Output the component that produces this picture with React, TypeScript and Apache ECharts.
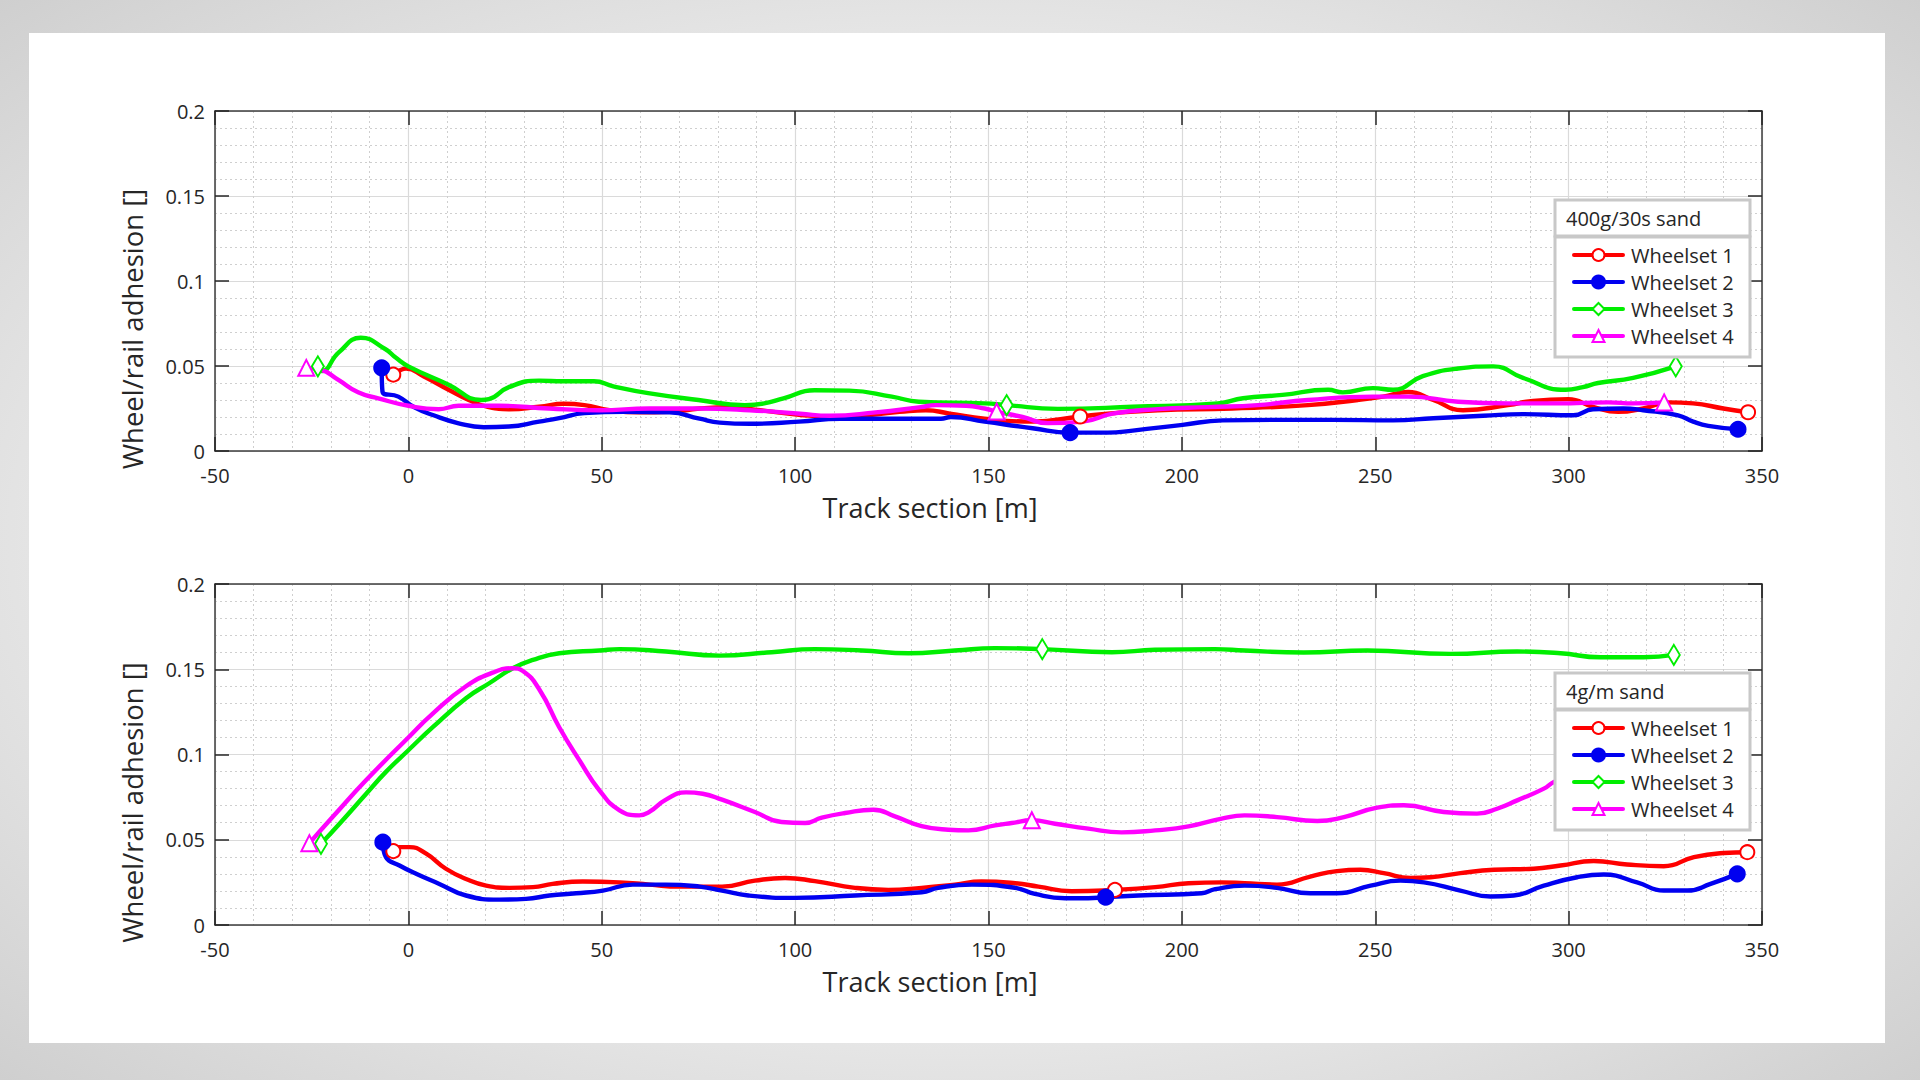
import React, { useEffect, useRef } from "react";
import * as echarts from "echarts";

// ---------- data ----------
const SERIES_NAMES = ["Wheelset 1", "Wheelset 2", "Wheelset 3", "Wheelset 4"];
const SERIES_COLORS = ["#ff0000", "#0000f0", "#00ee00", "#ff00ff"];
const PANEL_TITLES = ["400g/30s sand", "4g/m sand"];
const X_TICKS = [-50, 0, 50, 100, 150, 200, 250, 300, 350];
const Y_TICKS = [0, 0.05, 0.1, 0.15, 0.2];

// Panel 1: 400g/30s sand  ([track section m, adhesion])
const TOP_W1 = [[-3.9,0.0449],[-2.5,0.047],[-0.6,0.0485],[3.9,0.044],[10.4,0.036],[15.6,0.030],[20.8,0.0258],[26,0.0246],[33.8,0.026],[40.3,0.0278],[45.5,0.027],[52,0.024],[59.7,0.0227],[67.5,0.023],[75.3,0.025],[83,0.0258],[91,0.024],[101,0.0213],[111.7,0.020],[127,0.023],[133.8,0.024],[140,0.022],[149,0.019],[161.4,0.0173],[173.7,0.0203],[180.8,0.022],[193.8,0.024],[213,0.025],[232.6,0.027],[245.5,0.030],[252,0.032],[258.5,0.0347],[265,0.030],[272.7,0.024],[284.3,0.027],[290.8,0.0295],[299.9,0.0305],[306.3,0.026],[312.8,0.023],[319.3,0.025],[325.7,0.0286],[332.2,0.028],[340,0.025],[346.4,0.0228]];
const TOP_W2 = [[-6.9,0.0489],[-6.7,0.035],[-2.6,0.032],[1.3,0.026],[6.5,0.021],[13,0.0163],[19.5,0.014],[26,0.0144],[33.8,0.0173],[39,0.0193],[45.5,0.0223],[55.8,0.023],[67.5,0.0227],[75.3,0.019],[80.5,0.0167],[88.3,0.016],[101,0.0173],[111.7,0.019],[127,0.019],[137.7,0.019],[140.3,0.020],[149,0.0173],[161.4,0.0134],[171.1,0.0108],[180.8,0.0108],[187.3,0.012],[200.2,0.0154],[210.6,0.018],[226,0.0183],[239,0.0183],[254.6,0.018],[265,0.0193],[277.9,0.0207],[288.2,0.0217],[301.2,0.021],[306.3,0.0246],[314.1,0.025],[319.3,0.024],[328.3,0.021],[332.2,0.0173],[336.1,0.0148],[343.8,0.0128]];
const TOP_W3 = [[-23.4,0.0498],[-22.4,0.047],[-18,0.058],[-12.3,0.0666],[-6,0.060],[-3.2,0.0548],[0,0.0498],[10.4,0.039],[18.8,0.030],[20.8,0.0305],[26,0.0376],[33.8,0.0414],[40,0.041],[48,0.041],[53,0.038],[62,0.034],[75,0.030],[87,0.027],[92,0.028],[97,0.031],[105,0.0357],[114,0.0355],[125,0.032],[132,0.029],[149,0.028],[154.7,0.027],[167.9,0.0248],[187.3,0.026],[209.3,0.028],[215.8,0.031],[226,0.033],[237.8,0.036],[241.6,0.0345],[249.4,0.037],[254.6,0.036],[262.3,0.044],[271.4,0.0485],[280.5,0.0498],[288.2,0.043],[299.2,0.036],[303.7,0.0376],[307.6,0.040],[316.7,0.043],[327.7,0.0498]];
const TOP_W4 = [[-26.4,0.0489],[-22.7,0.0479],[-18.2,0.042],[-13,0.0345],[-7.8,0.031],[0,0.0266],[7.8,0.0246],[13,0.0266],[23.4,0.0266],[36.4,0.025],[49.4,0.024],[62.3,0.025],[75.3,0.025],[88.3,0.024],[101.3,0.0219],[109,0.0207],[120.8,0.0227],[132.5,0.0258],[136.4,0.027],[144.2,0.0266],[149,0.025],[152.1,0.0232],[158.8,0.020],[165.3,0.0164],[174.4,0.0173],[182.1,0.022],[193.8,0.0246],[206.7,0.0258],[219.6,0.027],[232.6,0.030],[249.4,0.032],[258.5,0.032],[271.4,0.029],[284.3,0.028],[297.3,0.028],[310.2,0.0286],[316.7,0.028],[324.7,0.0286]];
const TOP_MID_X = [173.7, 171.1, 154.7, 152.1];

// Panel 2: 4g/m sand
const BOT_W1 = [[-3.9,0.0433],[-2.3,0.0457],[0.3,0.0457],[4.6,0.0418],[9.7,0.033],[14.9,0.027],[20.1,0.0231],[26.1,0.0218],[32.2,0.0222],[37.3,0.0241],[45.1,0.0255],[54.6,0.025],[62.3,0.0237],[70.1,0.0225],[81.1,0.0225],[89.6,0.026],[97.4,0.0276],[105.1,0.0257],[115.5,0.0218],[124.1,0.0206],[132.7,0.0218],[141.3,0.0237],[148.2,0.0255],[156.9,0.0245],[162.9,0.0225],[171.5,0.0198],[182.7,0.0206],[193.1,0.0222],[201.7,0.0245],[210.3,0.025],[216.2,0.0245],[224.6,0.0237],[233.2,0.0284],[240.1,0.0316],[246.2,0.0324],[252.2,0.0304],[259.1,0.0276],[264.3,0.028],[272,0.0304],[280.7,0.0324],[291,0.033],[297.9,0.0349],[306.5,0.0375],[315.1,0.0355],[324.6,0.0345],[332.4,0.0398],[340.1,0.0422],[346.2,0.0427]];
const BOT_W2 = [[-6.6,0.0486],[-5.8,0.0398],[-2.3,0.0349],[2,0.030],[8,0.0241],[14.9,0.0173],[23.5,0.0149],[30.4,0.0153],[36.5,0.0173],[43.4,0.0186],[50.3,0.0202],[58,0.0237],[66.6,0.0237],[75.3,0.0225],[81.1,0.0202],[87.9,0.0173],[100,0.0159],[115.5,0.0173],[132.7,0.0192],[137,0.0218],[145.7,0.0237],[156.9,0.0218],[162,0.0182],[169.8,0.0157],[175.8,0.0157],[180.3,0.0163],[188.8,0.0173],[205.1,0.0186],[208.6,0.021],[216.2,0.0231],[224.6,0.0218],[233.2,0.0186],[240.1,0.0186],[248.8,0.0231],[256.5,0.026],[262.6,0.025],[272,0.0202],[279.8,0.0167],[285.8,0.0173],[293.6,0.0231],[302.2,0.028],[309.1,0.0296],[317.7,0.025],[324.6,0.0202],[330.7,0.0202],[336.7,0.0241],[343.6,0.030]];
const BOT_W3 = [[-22.6,0.0476],[-17.8,0.0594],[-10.9,0.077],[-5.8,0.0898],[0,0.1025],[6.3,0.116],[14.9,0.133],[20.9,0.1418],[27,0.1506],[32.2,0.1555],[39,0.1594],[49.4,0.161],[54.6,0.1618],[66.6,0.1604],[80.4,0.158],[93.9,0.160],[105.1,0.1618],[117.2,0.161],[129.3,0.1594],[141.3,0.161],[151.7,0.1624],[163.9,0.1618],[181.9,0.160],[193,0.1614],[208.6,0.1618],[216.2,0.161],[231.5,0.1598],[247.9,0.161],[269.4,0.159],[286.7,0.1604],[297.9,0.1594],[308.2,0.157],[319.4,0.157],[327.2,0.1584]];
const BOT_W4 = [[-25.6,0.048],[-19.6,0.0633],[-10.9,0.085],[0,0.110],[6.3,0.124],[14.9,0.14],[21.8,0.148],[27,0.1506],[29.6,0.149],[33.9,0.138],[39,0.116],[44.2,0.0967],[49.4,0.079],[54.6,0.0673],[59.7,0.0643],[62.3,0.0663],[66.6,0.0735],[71.8,0.0778],[76.1,0.077],[81.1,0.0735],[89.6,0.0663],[96.5,0.0604],[102.6,0.0598],[106.9,0.063],[112.9,0.0657],[120.2,0.0676],[125.8,0.0637],[132.7,0.058],[139.6,0.0559],[144.8,0.0555],[151.7,0.0584],[156,0.0598],[161.2,0.0614],[167.2,0.0594],[175.8,0.0565],[184.4,0.0543],[193.1,0.0555],[201.7,0.0578],[210.3,0.0624],[216.2,0.0643],[224.6,0.0633],[235,0.061],[241.9,0.0633],[250.5,0.0688],[257.4,0.0702],[267.7,0.0663],[276.3,0.0653],[281.5,0.0682],[286.7,0.0731],[293.6,0.080],[296.2,0.0839],[305,0.092],[315,0.098],[325,0.102]];
const BOT_MID_X = [182.7, 180.3, 163.9, 161.2];

const PANELS = [
  { series: [TOP_W1, TOP_W2, TOP_W3, TOP_W4], mids: TOP_MID_X },
  { series: [BOT_W1, BOT_W2, BOT_W3, BOT_W4], mids: BOT_MID_X },
];

// ---------- styles ----------
const FONT = "'Open Sans', 'Noto Sans', sans-serif";
const TEXT_COLOR = "#262626";
const SYMBOLS: any[] = ["emptyCircle", "circle", "emptyDiamond", "emptyTriangle"];
const SYMBOL_SIZES: any[] = [14, 14, [12, 20], 16];
const GRIDS = [
  { left: 215, top: 111, width: 1547, height: 340 },
  { left: 215, top: 584, width: 1547, height: 341 },
];
const LEGEND_SEP_Y = [236, 709];

export default function App() {
  const ref = useRef<HTMLDivElement>(null);

  useEffect(() => {
    if (!ref.current) return;
    const chart = echarts.init(ref.current, null, { renderer: "svg" });

    const xAxes: any[] = [];
    const yAxes: any[] = [];
    GRIDS.forEach((_, gi) => {
      const common = {
        gridIndex: gi,
        type: "value",
        axisLine: { show: true, onZero: false, lineStyle: { color: "#3c3c3c", width: 1.5 } },
        axisTick: { show: true, inside: true, length: 14, lineStyle: { color: "#262626", width: 1.5 } },
      };
      xAxes.push({
        ...common,
        position: "bottom",
        min: X_TICKS[0],
        max: X_TICKS[X_TICKS.length - 1],
        interval: X_TICKS[1] - X_TICKS[0],
        axisLabel: { show: true, margin: 14, fontSize: 20, fontFamily: FONT, color: TEXT_COLOR },
        splitLine: { show: true, lineStyle: { color: "#dadada", width: 1.2 } },
        minorTick: { show: false, splitNumber: 5 },
        minorSplitLine: { show: true, lineStyle: { color: "#cfcfcf", width: 1, type: [2, 3] } },
      });
      xAxes.push({
        ...common,
        position: "top",
        min: X_TICKS[0],
        max: X_TICKS[X_TICKS.length - 1],
        interval: X_TICKS[1] - X_TICKS[0],
        axisLabel: { show: false },
        splitLine: { show: false },
      });
      yAxes.push({
        ...common,
        position: "left",
        min: Y_TICKS[0],
        max: Y_TICKS[Y_TICKS.length - 1],
        interval: Y_TICKS[1] - Y_TICKS[0],
        axisLabel: {
          show: true,
          margin: 10,
          fontSize: 20,
          fontFamily: FONT,
          color: TEXT_COLOR,
          formatter: (v: number) => String(parseFloat(v.toFixed(3))),
        },
        splitLine: { show: true, lineStyle: { color: "#dadada", width: 1.2 } },
        minorTick: { show: false, splitNumber: 5 },
        minorSplitLine: { show: true, lineStyle: { color: "#cfcfcf", width: 1, type: [2, 3] } },
      });
      yAxes.push({
        ...common,
        position: "right",
        min: Y_TICKS[0],
        max: Y_TICKS[Y_TICKS.length - 1],
        interval: Y_TICKS[1] - Y_TICKS[0],
        axisLabel: { show: false },
        splitLine: { show: false },
      });
    });

    const series: any[] = [];
    PANELS.forEach((panel, pi) => {
      panel.series.forEach((pts, si) => {
        const last = pts.length - 1;
        const data = pts.map((p, i) => {
          const isMarker = i === 0 || i === last || p[0] === panel.mids[si];
          return isMarker ? { value: p } : { value: p, symbol: "none" };
        });
        series.push({
          type: "line",
          name: SERIES_NAMES[si],
          xAxisIndex: pi * 2,
          yAxisIndex: pi * 2,
          data,
          smooth: 0.5,
          symbol: SYMBOLS[si],
          symbolSize: SYMBOL_SIZES[si],
          showSymbol: true,
          showAllSymbol: true,
          z: 2,
          lineStyle: { color: SERIES_COLORS[si], width: 4.4, cap: "round", join: "round" },
          itemStyle: { color: SERIES_COLORS[si], borderColor: SERIES_COLORS[si], borderWidth: 3 },
        });
      });
    });

    const legends: any[] = LEGEND_SEP_Y.map((sep) => ({
      orient: "vertical",
      left: 1572,
      top: sep + 9,
      padding: 0,
      itemWidth: 49,
      itemHeight: 15,
      itemGap: 7,
      z: 20,
      selectedMode: false,
      data: SERIES_NAMES,
      lineStyle: { width: 4 },
      itemStyle: { borderWidth: 3 },
      textStyle: { fontSize: 20, fontFamily: FONT, color: TEXT_COLOR, padding: [0, 0, 0, 3] },
    }));

    const graphics: any[] = [];
    LEGEND_SEP_Y.forEach((sep, pi) => {
      graphics.push({
        type: "rect",
        z: 10,
        shape: { x: 1555, y: sep - 36, width: 195, height: 36 },
        style: { fill: "#ffffff", stroke: "#c8c8c8", lineWidth: 3 },
      });
      graphics.push({
        type: "rect",
        z: 10,
        shape: { x: 1555, y: sep + 1, width: 195, height: 120 },
        style: { fill: "#ffffff", stroke: "#c8c8c8", lineWidth: 3 },
      });
      graphics.push({
        type: "text",
        z: 11,
        x: 1566,
        y: sep - 18,
        style: {
          text: PANEL_TITLES[pi],
          font: `20px ${FONT}`,
          fill: TEXT_COLOR,
          align: "left",
          verticalAlign: "middle",
        },
      });
    });
    GRIDS.forEach((g) => {
      graphics.push({
        type: "text",
        z: 11,
        x: 930,
        y: g.top + g.height + 56,
        style: {
          text: "Track section [m]",
          font: `27px ${FONT}`,
          fill: TEXT_COLOR,
          align: "center",
          verticalAlign: "middle",
        },
      });
      graphics.push({
        type: "text",
        z: 11,
        x: 132,
        y: g.top + g.height / 2 + 48,
        rotation: Math.PI / 2,
        style: {
          text: "Wheel/rail adhesion []",
          font: `27.5px ${FONT}`,
          fill: TEXT_COLOR,
          align: "center",
          verticalAlign: "middle",
        },
      });
    });

    chart.setOption({
      animation: false,
      backgroundColor: "transparent",
      grid: GRIDS,
      xAxis: xAxes,
      yAxis: yAxes,
      legend: legends,
      series,
      graphic: { elements: graphics },
    });

    return () => chart.dispose();
  }, []);

  return (
    <div
      style={{
        position: "absolute",
        left: 0,
        top: 0,
        width: 1920,
        height: 1080,
        background: "radial-gradient(ellipse at 50% 50%, #fbfbfb 0%, #ededed 55%, #cfcfcf 100%)",
        overflow: "hidden",
      }}
    >
      <div
        style={{
          position: "absolute",
          left: 29,
          top: 33,
          width: 1856,
          height: 1010,
          background: "#ffffff",
        }}
      />
      <div ref={ref} style={{ position: "absolute", left: 0, top: 0, width: 1920, height: 1080 }} />
    </div>
  );
}
